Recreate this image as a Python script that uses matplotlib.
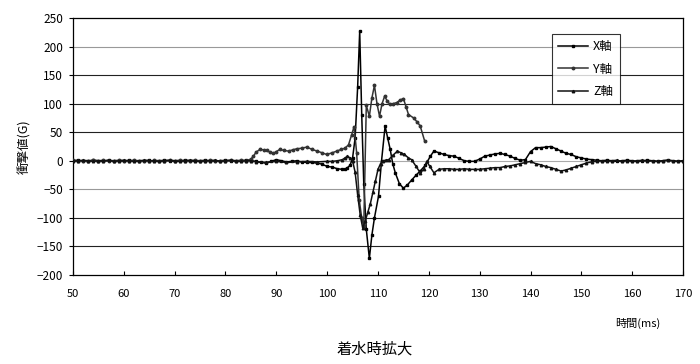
import matplotlib
matplotlib.use("Agg")
from matplotlib import pyplot as plt

plt.rcParams['font.family'] = ['Noto Sans CJK JP', 'DejaVu Sans']

# impact acceleration, zoom around water entry
x_t = [50, 51, 52, 53, 54, 55, 56, 57, 58, 59, 60, 61, 62, 63, 64, 65, 66, 67, 68, 69,
       70, 71, 72, 73, 74, 75, 76, 77, 78, 79, 80, 81, 82, 83, 84, 85, 86, 87, 88, 89,
       90, 91, 92, 93, 94, 95, 96, 97, 98, 99, 100, 101, 102, 103, 103.5, 104, 104.5,
       105, 105.5, 106, 106.4, 106.8, 107.2, 107.7, 108.3, 108.8, 109.3, 110.1, 110.7,
       111.4, 111.9, 112.4, 112.9, 113.4, 114.2, 115, 115.8, 116.7, 117.5, 118.3, 119.3,
       120.3, 121, 122, 123, 124, 125, 126, 127, 128, 129, 130, 131, 132, 133, 134, 135,
       136, 137, 138, 139, 140, 141, 142, 143, 144, 145, 146, 147, 148, 149, 150, 151,
       152, 153, 154, 155, 156, 157, 158, 159, 160, 161, 162, 163, 164, 165, 166, 167,
       168, 169, 170]
x_v = [0, 1, -1, 0, 1, 0, -1, 1, 0, 0, -1, 1, 0, -1, 0, 1, -1, 0, 1, 0,
       -1, 0, 1, 0, -1, 0, 1, 0, -1, 0, 1, 0, -1, 0, 1, 0, -1, -3, -4, -1,
       2, 0, -2, -1, 0, -2, -3, -3, -4, -6, -10, -11, -14, -15, -15, -12, -8,
       5, 40, 130, 227, 80, -40, -120, -171, -130, -100, -62, 0,
       61, 40, 20, -5, -21, -40, -48, -42, -33, -25, -18, -8,
       8, 17, 14, 11, 9, 8, 4, 0, -1, -1, 3, 8, 10, 12, 13, 11,
       8, 4, 1, 2, 16, 23, 23, 24, 25, 21, 17, 13, 11, 7, 5, 3,
       2, 1, 0, 1, 0, -1, 0, 1, 0, -1, 0, 1, 0, -1, 0, 1,
       0, -1, 0]

y_t = [50, 51, 52, 53, 54, 55, 56, 57, 58, 59, 60, 61, 62, 63, 64, 65, 66, 67, 68, 69,
       70, 71, 72, 73, 74, 75, 76, 77, 78, 79, 80, 81, 82, 83, 84, 85, 85.5, 86, 86.8,
       87.5, 88.1, 88.8, 89.4, 90, 90.7, 91.5, 92.4, 93.2, 94, 95, 96, 97, 98, 99, 99.9,
       101, 101.9, 102.8, 103.5, 104.2, 104.8, 105.3, 105.8, 106.3, 106.8, 107.2, 107.7,
       108.3, 108.8, 109.3, 109.8, 110.3, 110.8, 111.3, 111.8, 112.3, 113, 113.7, 114.3,
       115, 115.5, 116, 117, 117.7, 118.3, 119.2]
y_v = [1, 0, 0, -1, 1, 0, 1, -1, 0, 1, 0, -1, 1, 0, 0, -1, 1, 0, -1, 1,
       0, 1, -1, 0, 1, 0, -1, 1, 0, 0, -1, 1, 0, 1, 0, 3, 8, 15, 20,
       19, 18, 15, 13, 16, 20, 18, 17, 19, 21, 22, 24, 20, 17, 14, 11,
       14, 17, 20, 22, 28, 45, 60, 14, -68, -100, -115, 97,
       78, 110, 132, 100, 78, 100, 113, 105, 99, 100, 102, 106,
       109, 95, 81, 75, 68, 61, 34]

z_t = [50, 51, 52, 53, 54, 55, 56, 57, 58, 59, 60, 61, 62, 63, 64, 65, 66, 67, 68, 69,
       70, 71, 72, 73, 74, 75, 76, 77, 78, 79, 80, 81, 82, 83, 84, 85, 86, 88, 90, 92,
       94, 96, 98, 100, 101, 102, 103, 103.5, 104, 104.5, 105, 105.5, 106, 106.5, 107,
       107.5, 108, 108.5, 109, 109.5, 110, 110.5, 111, 111.5, 112.1, 113, 113.8, 114.5,
       115.2, 116, 116.6, 117.5, 118.3, 119, 119.6, 120.2, 121, 122, 123, 124, 125, 126,
       127, 128, 129, 130, 131, 132, 133, 134, 135, 136, 137, 138, 139, 140, 141, 142,
       143, 144, 145, 146, 147, 148, 149, 150, 151, 152, 153, 154, 155, 156, 157, 158,
       159, 160, 161, 162, 163, 164, 165, 166, 167, 168, 169, 170]
z_v = [-1, 0, 1, 0, -1, 0, 0, 1, -1, 0, 1, 0, -1, 0, 1, 0, 0, -1, 0, 1,
       0, -1, 0, 1, 0, -1, 0, 0, 1, -1, 0, 1, 0, -1, 0, 0, -2, -3, -1, -3,
       -2, -1, -2, -1, -1, 0, 2, 5, 8, 5, 0, -20, -60, -95, -118,
       -105, -90, -75, -55, -35, -15, -5, 0, 1, 2, 10, 17, 14,
       11, 5, 2, -10, -21, -15, -1, -10, -21, -15, -14, -14, -15, -15,
       -14, -15, -15, -15, -14, -13, -12, -12, -10, -9, -7, -5, -3, -1, -5, -7,
       -10, -12, -15, -18, -16, -13, -10, -7, -4, -2, -1, 0, -1, 0, 1, -1,
       0, -1, 0, 1, -1, 0, -1, 0, 1, 0, -1, 0]

y_ticks = [-200, -150, -100, -50, 0, 50, 100, 150, 200, 250]
x_ticks = [50, 60, 70, 80, 90, 100, 110, 120, 130, 140, 150, 160, 170]

fig = plt.figure(figsize=(7, 3.64), dpi=100)
ax = fig.add_axes([73/700, 1 - 275/364, 610/700, 257/364])

# horizontal grid lines (some print lighter in the scan)
grid_col = {200: '#999999', 0: '#aaaaaa', -50: '#999999'}
for yv in y_ticks[1:-1]:
    ax.axhline(yv, color=grid_col.get(yv, '#222222'), lw=0.8, zorder=1)

ax.plot(x_t, x_v, color='black', lw=1.1, marker='s', ms=1.8, label='X軸', zorder=3)
ax.plot(y_t, y_v, color='#333333', lw=1.1, marker='o', ms=1.8, label='Y軸', zorder=3)
ax.plot(z_t, z_v, color='#111111', lw=1.1, marker='^', ms=1.8, label='Z軸', zorder=3)

ax.set_xlim(50, 170)
ax.set_ylim(-200, 250)
ax.set_xticks(x_ticks)
ax.set_yticks(y_ticks)
ax.tick_params(axis='x', direction='in', length=3, labelsize=8, pad=10)
ax.tick_params(axis='y', direction='out', length=3, labelsize=8.5, pad=4)
for s in ax.spines.values():
    s.set_linewidth(0.9)

ax.set_ylabel('衝撃値(G)', fontsize=9, labelpad=4)
fig.text(638/700, 1 - 323/364, '時間(ms)', fontsize=8, ha='center', va='center')
fig.text(375/700, 1 - 349/364, '着水時拡大', fontsize=11, ha='center', va='center')

leg = ax.legend(loc='upper left', bbox_to_anchor=(552/700, 1 - 34/364),
                bbox_transform=fig.transFigure, fontsize=9, frameon=True,
                fancybox=False, handlelength=2.4, borderpad=0.5, labelspacing=0.75,
                handletextpad=0.4, borderaxespad=0)
leg.get_frame().set_edgecolor('black')
leg.get_frame().set_linewidth(0.8)

fig.savefig('out.png', dpi=100)
